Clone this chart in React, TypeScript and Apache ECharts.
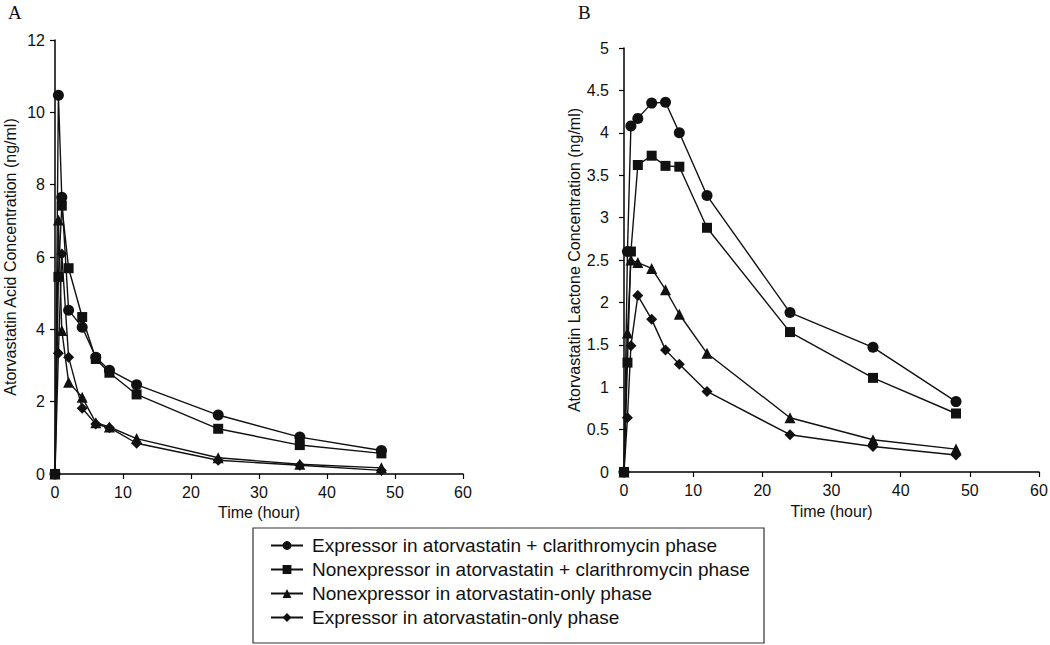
import React, { useEffect, useRef } from "react";
import * as echarts from "echarts";

const times = [0, 0.5, 1, 2, 4, 6, 8, 12, 24, 36, 48];
const seriesNames = [
  "Expressor in atorvastatin + clarithromycin phase",
  "Nonexpressor in atorvastatin + clarithromycin phase",
  "Nonexpressor in atorvastatin-only phase",
  "Expressor in atorvastatin-only phase",
];
const symbols = ["circle", "rect", "triangle", "diamond"];
const symbolSizes = [11, 10, 11, 11];

// Panel A: atorvastatin acid (ng/ml)
const acidExpClar = [0, 10.47, 7.65, 4.53, 4.06, 3.23, 2.87, 2.47, 1.63, 1.02, 0.65];
const acidNonClar = [0, 5.45, 7.42, 5.69, 4.34, 3.18, 2.8, 2.2, 1.25, 0.8, 0.57];
const acidNonOnly = [0, 7.02, 3.97, 2.54, 2.12, 1.42, 1.3, 0.98, 0.45, 0.27, 0.17];
const acidExpOnly = [0, 3.34, 6.08, 3.23, 1.82, 1.38, 1.28, 0.85, 0.38, 0.24, 0.1];

// Panel B: atorvastatin lactone (ng/ml)
const lacExpClar = [0, 2.6, 4.08, 4.17, 4.35, 4.36, 4.0, 3.26, 1.88, 1.47, 0.83];
const lacNonClar = [0, 1.29, 2.6, 3.62, 3.73, 3.61, 3.6, 2.88, 1.65, 1.11, 0.69];
const lacNonOnly = [0, 1.64, 2.5, 2.47, 2.4, 2.15, 1.86, 1.4, 0.64, 0.38, 0.27];
const lacExpOnly = [0, 0.64, 1.49, 2.08, 1.8, 1.44, 1.27, 0.95, 0.44, 0.3, 0.2];

const acidData = [acidExpClar, acidNonClar, acidNonOnly, acidExpOnly];
const lacData = [lacExpClar, lacNonClar, lacNonOnly, lacExpOnly];

const FONT = "'Liberation Sans', Arial, Helvetica, sans-serif";

export default function App() {
  const ref = useRef<HTMLDivElement>(null);
  useEffect(() => {
    if (!ref.current) return;
    const chart = echarts.init(ref.current, undefined, { renderer: "svg" });
    const axisLine = { lineStyle: { color: "#000", width: 1.5 } };
    const axisTick = { length: 5, lineStyle: { color: "#000", width: 1.2 } };
    const axisLabel = { color: "#111", fontSize: 16, fontFamily: FONT };
    const nameTextStyle = { color: "#111", fontSize: 16, fontFamily: FONT };
    const mk = (data: number[][], axisIdx: number) =>
      data.map((vals, i) => ({
        name: seriesNames[i],
        type: "line" as const,
        xAxisIndex: axisIdx,
        yAxisIndex: axisIdx,
        data: vals.map((v, k) => [times[k], v]),
        symbol: symbols[i],
        symbolSize: symbolSizes[i],
        showAllSymbol: true,
        lineStyle: { color: "#111", width: 1.4 },
        itemStyle: { color: "#111" },
        z: 10 - i,
      }));
    chart.setOption({
      animation: false,
      backgroundColor: "#fff",
      grid: [
        { left: 55, top: 40, width: 408, height: 434, outerBoundsMode: "none", containLabel: false },
        { left: 624, top: 48, width: 415, height: 424, outerBoundsMode: "none", containLabel: false },
      ],
      xAxis: [0, 1].map((g) => ({
        type: "value",
        gridIndex: g,
        min: 0,
        max: 60,
        interval: 10,
        name: "Time (hour)",
        nameLocation: "middle",
        nameGap: g === 0 ? 30 : 31,
        nameTextStyle,
        axisLine,
        axisTick,
        axisLabel: { ...axisLabel, margin: 10 },
        splitLine: { show: false },
      })),
      yAxis: [
        {
          type: "value",
          gridIndex: 0,
          min: 0,
          max: 12,
          interval: 2,
          name: "Atorvastatin Acid Concentration (ng/ml)",
          nameLocation: "middle",
          nameGap: 37,
          nameTextStyle,
          axisLine: { ...axisLine, show: true },
          axisTick: { ...axisTick, show: true },
          axisLabel: { ...axisLabel, margin: 10 },
          splitLine: { show: false },
        },
        {
          type: "value",
          gridIndex: 1,
          min: 0,
          max: 5,
          interval: 0.5,
          name: "Atorvastatin Lactone Concentration (ng/ml)",
          nameLocation: "middle",
          nameGap: 33,
          nameTextStyle,
          axisLine: { ...axisLine, show: true },
          axisTick: { ...axisTick, show: true },
          axisLabel: { ...axisLabel, margin: 15 },
          splitLine: { show: false },
        },
      ],
      legend: {
        orient: "vertical",
        left: 265,
        top: 531,
        itemWidth: 32,
        itemHeight: 11,
        itemGap: 5,
        data: seriesNames,
        textStyle: { color: "#111", fontSize: 19, fontFamily: FONT, padding: [0, 0, 0, 4] },
      },
      graphic: [
        {
          type: "rect",
          shape: { x: 253, y: 528, width: 511, height: 115 },
          style: { fill: "none", stroke: "#333", lineWidth: 1.2 },
          silent: true,
        },
        {
          type: "text",
          left: 8,
          top: 3,
          style: { text: "A", fontSize: 19, fontFamily: "'Liberation Serif', 'Times New Roman', serif", fill: "#111" },
        },
        {
          type: "text",
          left: 578,
          top: 3,
          style: { text: "B", fontSize: 19, fontFamily: "'Liberation Serif', 'Times New Roman', serif", fill: "#111" },
        },
      ],
      series: [...mk(acidData, 0), ...mk(lacData, 1)],
    });
    return () => chart.dispose();
  }, []);
  return (
    <div
      ref={ref}
      style={{ position: "fixed", left: 0, top: 0, width: 1050, height: 645, background: "#fff" }}
    />
  );
}
